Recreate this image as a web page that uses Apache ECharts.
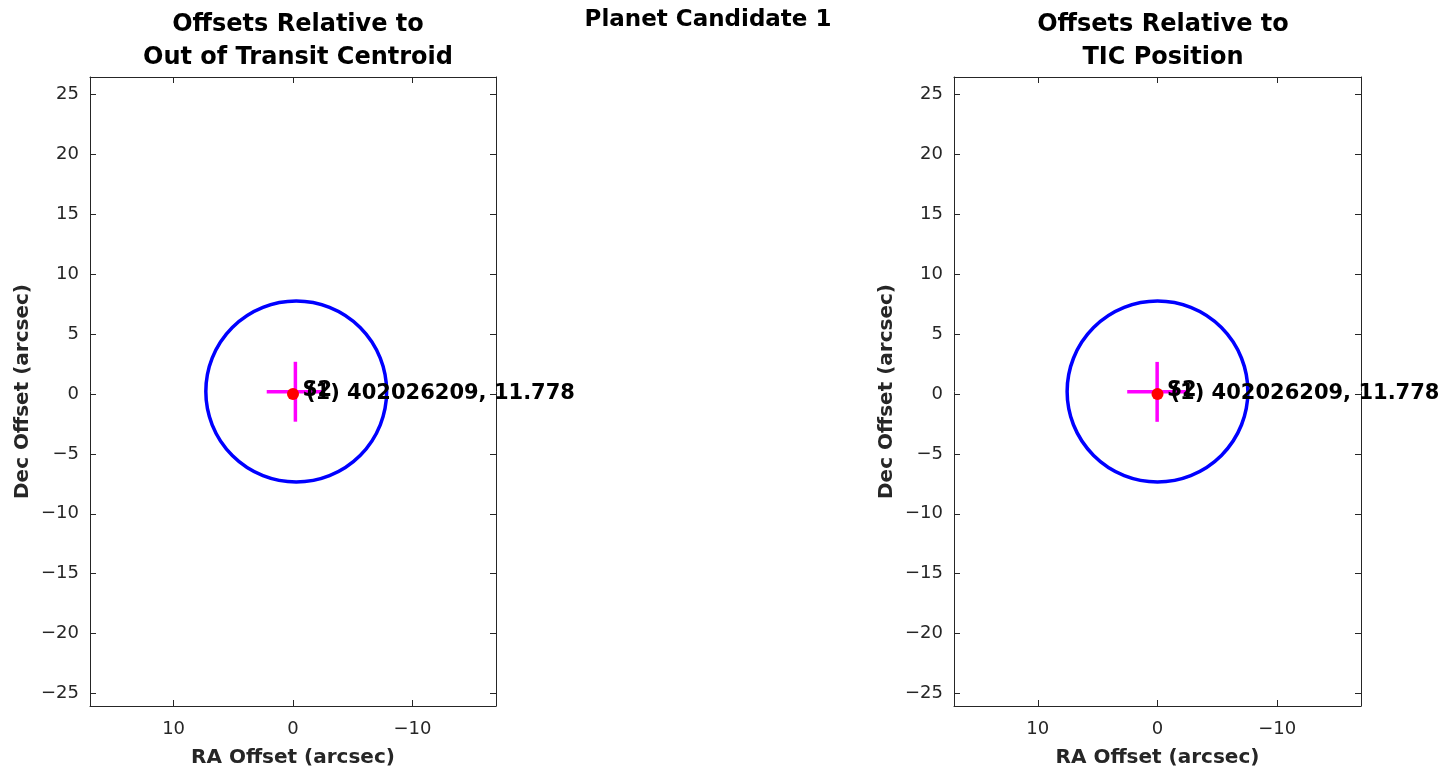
<!DOCTYPE html>
<html>
<head>
<meta charset="utf-8">
<script src="https://cdn.jsdelivr.net/npm/echarts@6/dist/echarts.min.js"></script>
<style>
html,body{margin:0;padding:0;background:#fff;}
#chart{width:1441px;height:775px;}
</style>
</head>
<body>
<div id="chart"></div>
<script>
// ---- data ----
const raTicks = [10, 0, -10];
const decTicks = [-25, -20, -15, -10, -5, 0, 5, 10, 15, 20, 25];
const raRange = [-17, 17];
const decRange = [-26.04, 26.46];
// [ra, dec, radius]
const ootCircle = [-0.27, 0.21, 7.57];
const ticCircle = [0.0, 0.21, 7.55];
// [ra, dec, raHalfWidth, decHalfWidth]
const ootCentroid = [-0.2, 0.19, 2.4, 2.5];
const ticCentroid = [0.03, 0.18, 2.5, 2.5];
// target star position
const starPos = [0, 0];
const starLabel = '(1) 402026209, 11.778';
const centroidLabel = 'S2';
const panelTitles = ['Offsets Relative to\nOut of Transit Centroid', 'Offsets Relative to\nTIC Position'];
const mainTitle = 'Planet Candidate 1';

const FONT = 'DejaVu Sans';
const AX = '#262626';

const chart = echarts.init(document.getElementById('chart'), null, {renderer: 'canvas'});

const grids = [
  {left: 90, width: 406, top: 77, height: 629},
  {left: 954, width: 407, top: 77, height: 629}
];

function fmt(v) { return v < 0 ? '\u2212' + Math.abs(v) : '' + v; }

function xAxes(gi) {
  const base = {
    type: 'value', gridIndex: gi, min: raRange[0], max: raRange[1], inverse: true,
    axisLine: {show: true, onZero: false, lineStyle: {color: AX, width: 1}},
    axisTick: {show: true, inside: true, length: 6, customValues: raTicks, lineStyle: {color: AX}},
    splitLine: {show: false}
  };
  return [
    Object.assign({}, base, {
      position: 'bottom',
      axisLabel: {show: true, customValues: raTicks, margin: 14, color: AX, fontFamily: FONT, fontSize: 18, formatter: fmt},
      name: 'RA Offset (arcsec)', nameLocation: 'middle', nameGap: 42,
      nameTextStyle: {color: AX, fontFamily: FONT, fontSize: 20, fontWeight: 'bold'}
    }),
    Object.assign({}, base, {position: 'top', axisLabel: {show: false}})
  ];
}
function yAxes(gi) {
  const base = {
    type: 'value', gridIndex: gi, min: decRange[0], max: decRange[1],
    axisLine: {show: true, onZero: false, lineStyle: {color: AX, width: 1}},
    axisTick: {show: true, inside: true, length: 6, customValues: decTicks, lineStyle: {color: AX}},
    splitLine: {show: false}
  };
  return [
    Object.assign({}, base, {
      position: 'left',
      axisLabel: {show: true, customValues: decTicks, margin: 11, color: AX, fontFamily: FONT, fontSize: 18, formatter: fmt},
      name: 'Dec Offset (arcsec)', nameLocation: 'middle', nameGap: 57,
      nameTextStyle: {color: AX, fontFamily: FONT, fontSize: 20, fontWeight: 'bold'}
    }),
    Object.assign({}, base, {position: 'right', axisLabel: {show: false}})
  ];
}

function circleSeries(gi, c) {
  return {
    type: 'custom', xAxisIndex: gi * 2, yAxisIndex: gi * 2, silent: true, z: 2,
    data: [c],
    renderItem: function (params, api) {
      const p = api.coord([api.value(0), api.value(1)]);
      const s = api.size([api.value(2), api.value(2)], [api.value(0), api.value(1)]);
      return {type: 'circle', shape: {cx: p[0], cy: p[1], r: s[0]},
        style: {fill: 'none', stroke: '#0000ff', lineWidth: 3.5}};
    }
  };
}
function crossSeries(gi, c) {
  return {
    type: 'custom', xAxisIndex: gi * 2, yAxisIndex: gi * 2, silent: true, z: 3,
    data: [c],
    renderItem: function (params, api) {
      const ra = api.value(0), dec = api.value(1), er = api.value(2), ed = api.value(3);
      const h0 = api.coord([ra + er, dec]), h1 = api.coord([ra - er, dec]);
      const v0 = api.coord([ra, dec - ed]), v1 = api.coord([ra, dec + ed]);
      const st = {stroke: '#ff00ff', lineWidth: 3.5};
      return {type: 'group', children: [
        {type: 'line', shape: {x1: h0[0], y1: h0[1], x2: h1[0], y2: h1[1]}, style: st},
        {type: 'line', shape: {x1: v0[0], y1: v0[1], x2: v1[0], y2: v1[1]}, style: st}
      ]};
    }
  };
}
function starSeries(gi) {
  return [
    {
      type: 'scatter', xAxisIndex: gi * 2, yAxisIndex: gi * 2, silent: true, z: 4,
      symbol: 'circle', symbolSize: 12, itemStyle: {color: '#ff0000', opacity: 1},
      data: [starPos],
      label: {show: true, position: 'right', distance: 7, formatter: starLabel, opacity: 1,
        color: '#000000', fontFamily: FONT, fontSize: 21, fontWeight: 'bold'}
    },
    {
      type: 'scatter', xAxisIndex: gi * 2, yAxisIndex: gi * 2, silent: true, z: 5,
      symbol: 'circle', symbolSize: 1, itemStyle: {color: '#ff0000', opacity: 0},
      data: [starPos],
      label: {show: true, position: 'right', distance: 9, offset: [0, -3], formatter: centroidLabel, opacity: 1,
        color: '#000000', fontFamily: FONT, fontSize: 21, fontWeight: 'bold'}
    }
  ];
}

const option = {
  backgroundColor: '#fff',
  animation: false,
  title: [
    {text: mainTitle, left: 703, top: 4, textAlign: 'center',
      textStyle: {color: '#000', fontFamily: FONT, fontSize: 23, fontWeight: 'bold'}},
    {text: panelTitles[0], left: 293, top: 3, textAlign: 'center',
      textStyle: {color: '#000', fontFamily: FONT, fontSize: 24, fontWeight: 'bold', lineHeight: 33}},
    {text: panelTitles[1], left: 1158, top: 3, textAlign: 'center',
      textStyle: {color: '#000', fontFamily: FONT, fontSize: 24, fontWeight: 'bold', lineHeight: 33}}
  ],
  grid: grids,
  xAxis: [].concat(xAxes(0), xAxes(1)),
  yAxis: [].concat(yAxes(0), yAxes(1)),
  series: [].concat(
    [circleSeries(0, ootCircle), crossSeries(0, ootCentroid)], starSeries(0),
    [circleSeries(1, ticCircle), crossSeries(1, ticCentroid)], starSeries(1)
  )
};
chart.setOption(option);
</script>
</body>
</html>
